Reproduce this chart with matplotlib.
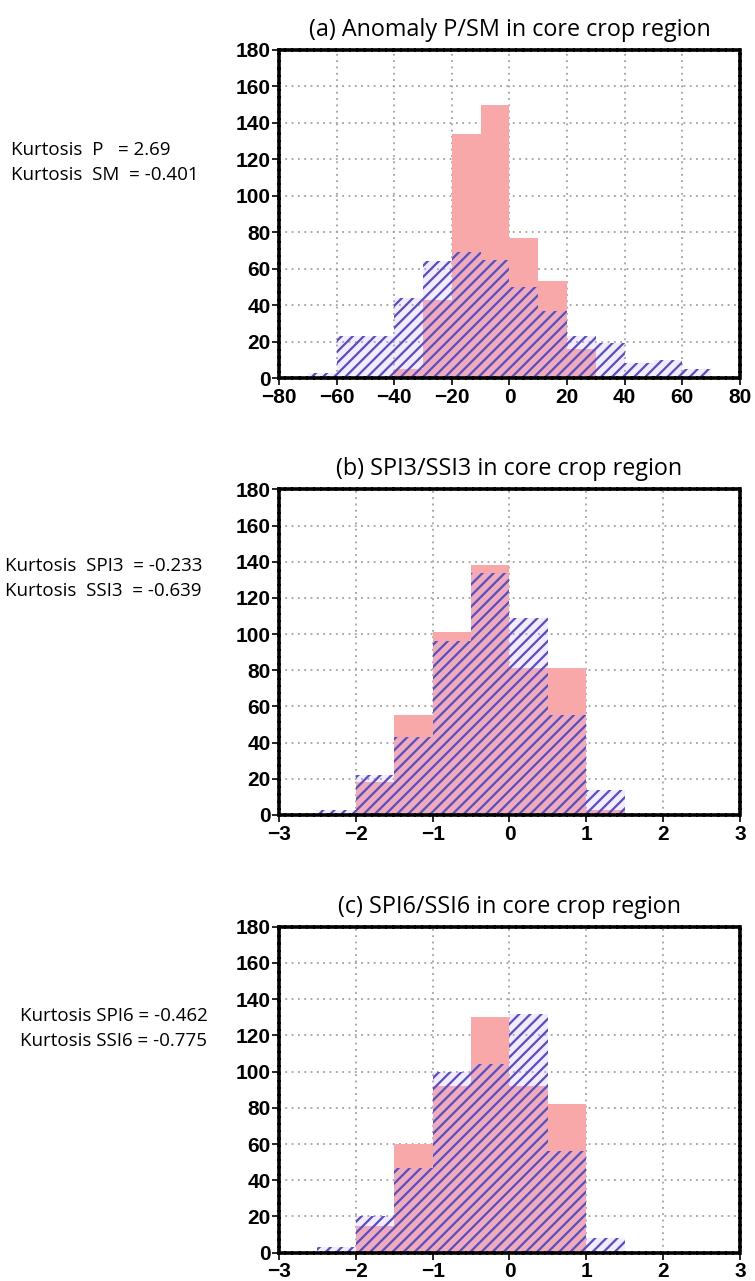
import numpy as np
import matplotlib
matplotlib.use("Agg")
import matplotlib.pyplot as plt

# ---- data ---------------------------------------------------------------
# (a) anomaly P / SM, bins of width 10
edges_a = np.arange(-70, 71, 10)
p_counts = [0, 0, 0, 5, 43, 134, 150, 77, 53, 16, 0, 0, 0, 0]
sm_counts = [3, 23, 23, 44, 64, 69, 65, 50, 37, 23, 19, 8, 10, 5]

# (b) SPI3 / SSI3, bins of width 0.5
edges_b = np.arange(-2.5, 1.51, 0.5)
spi3_counts = [0, 18, 55, 101, 138, 81, 81, 3]
ssi3_counts = [3, 22, 43, 96, 134, 109, 55, 14]

# (c) SPI6 / SSI6
edges_c = np.arange(-2.5, 1.51, 0.5)
spi6_counts = [0, 15, 60, 92, 130, 92, 82, 0]
ssi6_counts = [3, 20, 47, 100, 104, 132, 56, 8]

titles = ["(a) Anomaly P/SM in core crop region",
          "(b) SPI3/SSI3 in core crop region",
          "(c) SPI6/SSI6 in core crop region"]
kurt_text = [["Kurtosis  P   = 2.69", "Kurtosis  SM  = -0.401"],
             ["Kurtosis  SPI3  = -0.233", "Kurtosis  SSI3  = -0.639"],
             ["Kurtosis SPI6 = -0.462", "Kurtosis SSI6 = -0.775"]]
xlims = [(-80, 80), (-3, 3), (-3, 3)]
xticks = [np.arange(-80, 81, 20), np.arange(-3, 4, 1), np.arange(-3, 4, 1)]

### ---- M A K E   P L O T -------------------
plt.rcParams['hatch.linewidth'] = 1.6

fig = plt.figure(figsize=(7.55, 12.81), dpi=100)

# axes boxes in figure fraction (left, bottom, width, height)
boxes = [(0.3695, 0.7049, 0.6106, 0.2561),
         (0.3695, 0.3638, 0.6106, 0.2542),
         (0.3695, 0.0221, 0.6106, 0.2545)]
kurt_pos = [(0.014, 0.883), (0.006, 0.558), (0.027, 0.207)]

panels = [(edges_a, p_counts, sm_counts),
          (edges_b, spi3_counts, ssi3_counts),
          (edges_c, spi6_counts, ssi6_counts)]

pink = '#f8a8a9'
hatch_col = '#5a4fb8'

for i, (edges, red, blue) in enumerate(panels):
    ax = fig.add_axes(boxes[i])
    w = edges[1] - edges[0]
    ax.bar(edges[:-1], red, width=w, align='edge', color=pink,
           linewidth=0, zorder=2)
    ax.bar(edges[:-1], blue, width=w, align='edge',
           facecolor=(0.82, 0.70, 1.0, 0.25), edgecolor=hatch_col,
           hatch='///', linewidth=0, zorder=3)

    ax.set_xlim(*xlims[i])
    ax.set_ylim(0, 180)
    ax.set_xticks(xticks[i])
    ax.set_yticks(np.arange(0, 181, 20))
    ax.set_xticklabels([str(t).replace('-', '\u2212') for t in xticks[i]])
    ax.grid(True, color='#a0a0a0', linestyle=(0, (1, 2.5)), linewidth=1.3,
            zorder=1)
    ax.set_axisbelow(True)
    for s in ax.spines.values():
        s.set_linestyle((0, (1.4, 0.6)))
        s.set_linewidth(2.6)
        s.set_color('black')
        s.set_zorder(5)
    ax.tick_params(axis='both', direction='out', length=5, width=1.2,
                   labelsize=15, top=False, right=False)
    ax.tick_params(axis='x', pad=2)
    ax.tick_params(axis='y', pad=1)
    for lab in ax.get_xticklabels() + ax.get_yticklabels():
        lab.set_family('Liberation Sans')
        lab.set_fontweight('bold')

    ax.set_title(titles[i], family='Open Sans', fontsize=16.8, pad=10)

    kx, ky = kurt_pos[i]
    fig.text(kx, ky, kurt_text[i][0], family='Open Sans', fontsize=13.5,
             va='center')
    fig.text(kx, ky - 0.0195, kurt_text[i][1], family='Open Sans',
             fontsize=13.5, va='center')

plt.savefig('out.png', dpi=100)
